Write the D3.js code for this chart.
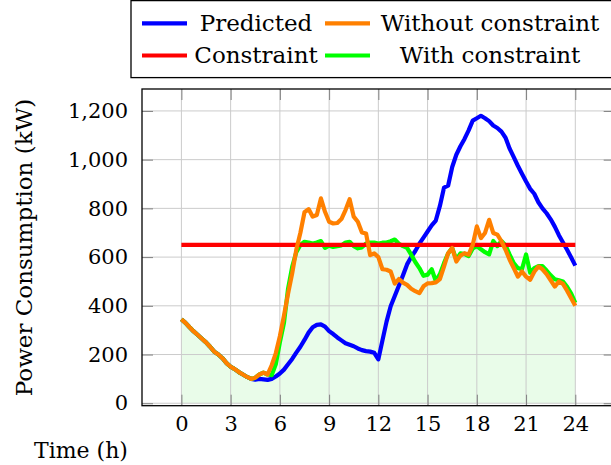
<!DOCTYPE html>
<html>
<head>
<meta charset="utf-8">
<script src="https://cdn.jsdelivr.net/npm/d3@7"></script>
<style>
  body { margin: 0; background: #fff; }
  svg text { fill: #000; }
</style>
</head>
<body>
<svg id="chart" width="611" height="465"></svg>
<script>
// time of day, every 15 minutes
const hours = d3.range(97).map(i => i / 4);

const predicted = [
  345, 330, 312, 295, 280, 265, 250, 232, 212, 200, 185, 165, 150, 140, 128, 118,
  108, 100, 97, 100, 98, 96, 100, 110, 122, 138, 160, 182, 208, 232, 260, 290,
  312, 322, 324, 315, 296, 284, 270, 258, 246, 240, 234, 225, 218, 214, 212, 207,
  180, 258, 335, 398, 440, 482, 525, 570, 600, 625, 655, 680, 705, 730, 750, 810,
  885, 893, 970, 1020, 1055, 1085, 1120, 1160, 1170, 1180, 1170, 1158, 1140, 1130, 1115, 1090,
  1045, 1010, 975, 942, 910, 880, 860, 825, 800, 780, 755, 725, 690, 660, 630, 598,
  565
];

const withoutConstraint = [
  345, 330, 312, 295, 280, 265, 250, 232, 212, 200, 185, 165, 150, 140, 128, 118,
  108, 100, 105, 118, 126, 118, 156, 205, 275, 360, 450, 533, 630, 700, 784, 797,
  766, 773, 841, 786, 745, 738, 740, 756, 793, 838, 766, 745, 701, 697, 608, 615,
  600, 550, 548, 541, 491, 510, 495, 486, 470, 460, 452, 480, 492, 493, 496, 510,
  561, 616, 637, 582, 606, 616, 610, 650, 726, 678, 699, 753, 699, 692, 665, 630,
  589, 555, 520, 541, 520, 507, 540, 561, 550, 530, 505, 479, 500, 490, 462, 431,
  400
];

const withConstraint = [
  345, 330, 312, 295, 280, 265, 250, 232, 212, 200, 185, 165, 150, 140, 128, 118,
  108, 100, 105, 118, 126, 118, 115, 160, 250, 330, 471, 560, 620, 650, 663, 660,
  656, 660, 666, 638, 647, 642, 645, 648, 660, 663, 645, 636, 640, 656, 660, 660,
  656, 659, 660, 665, 672, 655, 645, 638, 610, 580, 555, 523, 528, 550, 502, 530,
  575, 615, 638, 590, 615, 612, 604, 635, 645, 632, 620, 611, 666, 645, 666, 648,
  610, 575, 555, 550, 611, 536, 555, 563, 563, 545, 525, 509, 505, 500, 478, 450,
  412
];

const constraintLevel = 650;
const xTicks = [0, 3, 6, 9, 12, 15, 18, 21, 24];
const yTicks = [0, 200, 400, 600, 800, 1000, 1200];

const legendItems = [
  { label: "Predicted", color: "#0000ff", col: 0, row: 0 },
  { label: "Without constraint", color: "#ff8000", col: 1, row: 0 },
  { label: "Constraint", color: "#ff0000", col: 0, row: 1 },
  { label: "With constraint", color: "#00ff00", col: 1, row: 1 }
];

const FONT = "'DejaVu Serif', serif";

const svg = d3.select("#chart");

const plotL = 142, plotR = 614.7, plotT = 89, plotB = 405.7;
const x = d3.scaleLinear().domain([-2.4, 26.4]).range([plotL, plotR]);
const y = d3.scaleLinear().domain([-10, 1290]).range([plotB, plotT]);

const rows = hours.map((h, i) => ({
  h, p: predicted[i], wo: withoutConstraint[i], w: withConstraint[i]
}));

// fill under "with constraint"
svg.append("path")
  .datum(rows)
  .attr("fill", "#e9fce9")
  .attr("d", d3.area().x(d => x(d.h)).y0(y(0)).y1(d => y(d.w)));

// grid
const grid = svg.append("g").attr("stroke", "#cbcbcb").attr("stroke-width", 1);
grid.selectAll("line.v").data(xTicks).join("line").attr("class", "v")
  .attr("x1", d => x(d)).attr("x2", d => x(d)).attr("y1", plotT).attr("y2", plotB);
grid.selectAll("line.h").data(yTicks).join("line").attr("class", "h")
  .attr("y1", d => y(d)).attr("y2", d => y(d)).attr("x1", plotL).attr("x2", plotR);

// axes with inward ticks
const tickLen = 11;
const xAxisB = svg.append("g").attr("transform", `translate(0,${plotB})`)
  .call(d3.axisBottom(x).tickValues(xTicks).tickSizeInner(-tickLen).tickSizeOuter(0).tickPadding(10));
const xAxisT = svg.append("g").attr("transform", `translate(0,${plotT})`)
  .call(d3.axisTop(x).tickValues(xTicks).tickSizeInner(-tickLen).tickSizeOuter(0).tickFormat(""));
const yAxisL = svg.append("g").attr("transform", `translate(${plotL},0)`)
  .call(d3.axisLeft(y).tickValues(yTicks).tickSizeInner(-tickLen).tickSizeOuter(0)
    .tickPadding(14).tickFormat(d3.format(",")));
const yAxisR = svg.append("g").attr("transform", `translate(${plotR},0)`)
  .call(d3.axisRight(y).tickValues(yTicks).tickSizeInner(-tickLen).tickSizeOuter(0).tickFormat(""));

[xAxisB, xAxisT, yAxisL, yAxisR].forEach(g => {
  g.attr("font-family", FONT);
  g.select(".domain").remove();
  g.selectAll(".tick line").attr("stroke", "#808080").attr("stroke-width", 1);
  g.selectAll(".tick text").attr("font-size", 21).attr("fill", "#000");
});

// series
const line = key => d3.line().x(d => x(d.h)).y(d => y(d[key]));

svg.append("path").datum(rows)
  .attr("fill", "none").attr("stroke", "#0000ff").attr("stroke-width", 4.2)
  .attr("stroke-linejoin", "round").attr("d", line("p"));

svg.append("path").datum(rows)
  .attr("fill", "none").attr("stroke", "#00ff00").attr("stroke-width", 4.2)
  .attr("stroke-linejoin", "round").attr("d", line("w"));

svg.append("line")
  .attr("x1", x(0)).attr("x2", x(24))
  .attr("y1", y(constraintLevel)).attr("y2", y(constraintLevel))
  .attr("stroke", "#ff0000").attr("stroke-width", 4.2);

svg.append("path").datum(rows)
  .attr("fill", "none").attr("stroke", "#ff8000").attr("stroke-width", 4.2)
  .attr("stroke-linejoin", "round").attr("d", line("wo"));

// axis box
svg.append("rect")
  .attr("x", plotL).attr("y", plotT)
  .attr("width", plotR - plotL).attr("height", plotB - plotT)
  .attr("fill", "none").attr("stroke", "#000").attr("stroke-width", 1.3);

// axis labels
svg.append("text")
  .attr("transform", "translate(32,247.5) rotate(-90)")
  .attr("text-anchor", "middle").attr("font-size", 23)
  .attr("font-family", FONT)
  .text("Power Consumption (kW)");

svg.append("text")
  .attr("x", 81).attr("y", 458)
  .attr("text-anchor", "middle").attr("font-size", 22)
  .attr("font-family", FONT)
  .text("Time (h)");

// legend
const legend = svg.append("g").attr("font-family", FONT);
legend.append("rect")
  .attr("x", 131).attr("y", 0.6).attr("width", 520).attr("height", 77)
  .attr("fill", "#fff").attr("stroke", "#000").attr("stroke-width", 1.3);

const colLineX = [142, 325];
const colTextX = [256, 490];
const rowY = [23.3, 55.5];

legendItems.forEach(it => {
  legend.append("line")
    .attr("x1", colLineX[it.col]).attr("x2", colLineX[it.col] + 45)
    .attr("y1", rowY[it.row]).attr("y2", rowY[it.row])
    .attr("stroke", it.color).attr("stroke-width", 4.2);
  legend.append("text")
    .attr("x", colTextX[it.col]).attr("y", rowY[it.row] + 7.6)
    .attr("text-anchor", "middle").attr("font-size", 23)
    .text(it.label);
});
</script>
</body>
</html>
